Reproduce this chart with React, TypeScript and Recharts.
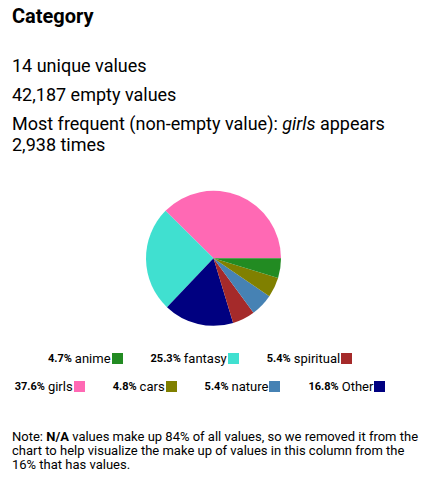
import React from 'react';
import { PieChart, Pie, Cell } from 'recharts';

const categories = ['girls', 'fantasy', 'Other', 'spiritual', 'nature', 'cars', 'anime'];
const shares = [37.6, 25.3, 16.8, 5.4, 5.4, 4.8, 4.7];
const colors = ['#ff69b4', '#40e0d0', '#000080', '#a52a2a', '#4682b4', '#808000', '#228b22'];

// legend order as shown, row by row
const legendRows = [
  ['anime', 'fantasy', 'spiritual'],
  ['girls', 'cars', 'nature', 'Other'],
];

const data = categories.map((name, i) => ({ name, value: shares[i], color: colors[i] }));

const LegendItem: React.FC<{ name: string }> = ({ name }) => {
  const d = data.find((x) => x.name === name)!;
  return (
    <span style={{ display: 'inline-flex', alignItems: 'center', margin: '0 14px' }}>
      <b style={{ fontSize: 11 }}>{d.value.toFixed(1)}%</b>
      <span style={{ fontSize: 13, marginLeft: 3 }}>{d.name}</span>
      <span style={{ width: 11, height: 11, background: d.color, display: 'inline-block', marginLeft: 1 }} />
    </span>
  );
};

export default function App() {
  return (
    <div style={{ position: 'relative', width: 424, height: 484, fontFamily: 'Roboto, sans-serif', color: '#000', background: '#fff' }}>
      <style>{`body{margin:0}`}</style>
      <div style={{ position: 'absolute', left: 12, top: 4, fontSize: 20, fontWeight: 'bold' }}>Category</div>
      <div style={{ position: 'absolute', left: 12, top: 55, fontSize: 18, lineHeight: '21px', width: 400 }}>
        <div>14 unique values</div>
        <div style={{ marginTop: 8 }}>42,187 empty values</div>
        <div style={{ marginTop: 8 }}>
          Most frequent (non-empty value): <i>girls</i> appears 2,938 times
        </div>
      </div>
      <div style={{ position: 'absolute', left: 0, top: 180 }}>
        <PieChart width={424} height={160}>
          <Pie
            data={data}
            dataKey="value"
            nameKey="name"
            cx={208.5}
            cy={73.3}
            outerRadius={67.5}
            startAngle={0}
            endAngle={360}
            stroke="none"
            isAnimationActive={false}
          >
            {data.map((d) => (
              <Cell key={d.name} fill={d.color} />
            ))}
          </Pie>
        </PieChart>
      </div>
      <div style={{ position: 'absolute', left: 0, top: 344, width: 400 }}>
        {legendRows.map((row, r) => (
          <div key={r} style={{ display: 'flex', justifyContent: 'center', height: 28, alignItems: 'center' }}>
            {row.map((n) => (
              <LegendItem key={n} name={n} />
            ))}
          </div>
        ))}
      </div>
      <div style={{ position: 'absolute', left: 12, top: 430, width: 410, fontSize: 13, lineHeight: '14px' }}>
        Note: <b>N/A</b> values make up 84% of all values, so we removed it from the chart to help visualize the make up of values in this column from the 16% that has values.
      </div>
    </div>
  );
}
